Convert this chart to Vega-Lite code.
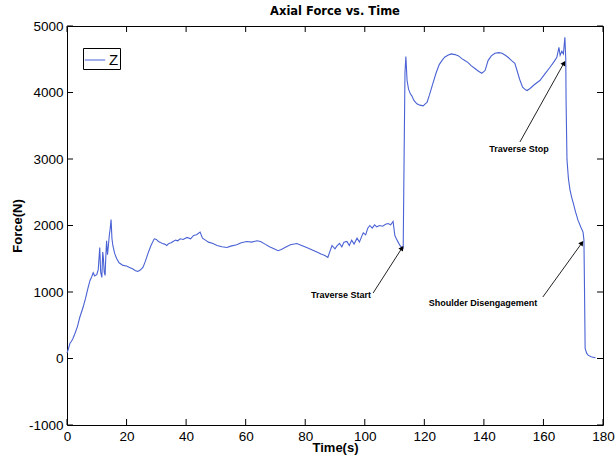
{
  "$schema": "https://vega.github.io/schema/vega-lite/v6.json",
  "width": 536,
  "height": 399,
  "autosize": "none",
  "padding": {"left": 67, "top": 26, "right": 13, "bottom": 33},
  "background": "white",
  "title": {"text": "Axial Force vs. Time", "font": "DejaVu Sans", "fontSize": 11.5, "fontWeight": "bold", "color": "black", "offset": 2},
  "config": {
    "view": {"stroke": "black", "strokeWidth": 1},
    "axis": {"grid": false, "domain": false, "ticks": false, "labelColor": "black", "titleColor": "black", "labelFont": "Liberation Sans", "labelFontSize": 13.5, "titleFont": "Liberation Sans", "titleFontSize": 13, "titleFontWeight": "bold"}
  },
  "datasets": {
    "xticks": [{"v":0},{"v":20},{"v":40},{"v":60},{"v":80},{"v":100},{"v":120},{"v":140},{"v":160},{"v":180}],
    "yticks": [{"v":-1000},{"v":0},{"v":1000},{"v":2000},{"v":3000},{"v":4000},{"v":5000}],
    "force": [
      {"t":0,"F":80},{"t":0.5,"F":150},{"t":1,"F":230},{"t":1.5,"F":260},{"t":2,"F":300},{"t":2.7,"F":380},{"t":3.5,"F":480},{"t":4.3,"F":620},{"t":5.4,"F":770},{"t":6.2,"F":900},{"t":7,"F":1050},{"t":7.7,"F":1170},{"t":8.3,"F":1230},{"t":8.8,"F":1290},{"t":9.3,"F":1240},{"t":10,"F":1260},{"t":10.5,"F":1340},{"t":11,"F":1670},{"t":11.3,"F":1300},{"t":11.7,"F":1220},{"t":12,"F":1600},{"t":12.2,"F":1520},{"t":12.5,"F":1300},{"t":12.8,"F":1250},{"t":13,"F":1500},{"t":13.3,"F":1770},{"t":13.6,"F":1560},{"t":13.9,"F":1700},{"t":14.2,"F":1850},{"t":14.5,"F":1950},{"t":14.8,"F":2090},{"t":15.1,"F":1800},{"t":15.4,"F":1700},{"t":16,"F":1580},{"t":16.7,"F":1500},{"t":17.5,"F":1440},{"t":18.8,"F":1400},{"t":20,"F":1390},{"t":21,"F":1370},{"t":22,"F":1350},{"t":23,"F":1320},{"t":23.8,"F":1310},{"t":24.6,"F":1330},{"t":25.5,"F":1370},{"t":26.3,"F":1460},{"t":27.2,"F":1580},{"t":28.2,"F":1700},{"t":29.3,"F":1800},{"t":30,"F":1790},{"t":30.7,"F":1760},{"t":31.2,"F":1750},{"t":32,"F":1730},{"t":32.8,"F":1720},{"t":33.5,"F":1700},{"t":34.2,"F":1730},{"t":35,"F":1740},{"t":35.6,"F":1760},{"t":36.5,"F":1780},{"t":37.2,"F":1770},{"t":38,"F":1800},{"t":39,"F":1790},{"t":40.3,"F":1820},{"t":41.5,"F":1800},{"t":42.5,"F":1850},{"t":43.5,"F":1860},{"t":44.7,"F":1900},{"t":45.5,"F":1810},{"t":46.5,"F":1780},{"t":47.5,"F":1750},{"t":49,"F":1730},{"t":50.4,"F":1700},{"t":52,"F":1680},{"t":53.7,"F":1670},{"t":55,"F":1690},{"t":57,"F":1710},{"t":58.5,"F":1740},{"t":60.4,"F":1760},{"t":62,"F":1750},{"t":63.8,"F":1770},{"t":65,"F":1760},{"t":66.5,"F":1720},{"t":68,"F":1680},{"t":69.5,"F":1650},{"t":70.9,"F":1620},{"t":72,"F":1640},{"t":73.2,"F":1670},{"t":75,"F":1710},{"t":77.2,"F":1730},{"t":78.8,"F":1700},{"t":80.5,"F":1670},{"t":82,"F":1640},{"t":83.9,"F":1600},{"t":85.3,"F":1570},{"t":86.6,"F":1550},{"t":87.6,"F":1520},{"t":88.2,"F":1600},{"t":89,"F":1700},{"t":90,"F":1650},{"t":90.6,"F":1690},{"t":91.5,"F":1730},{"t":92.3,"F":1680},{"t":93,"F":1750},{"t":94,"F":1760},{"t":94.8,"F":1700},{"t":95.6,"F":1780},{"t":96.4,"F":1720},{"t":97.4,"F":1810},{"t":98.2,"F":1750},{"t":99,"F":1840},{"t":99.5,"F":1890},{"t":100.3,"F":1860},{"t":101,"F":1960},{"t":101.7,"F":2000},{"t":102.5,"F":1960},{"t":103.3,"F":2010},{"t":104,"F":1980},{"t":105,"F":2000},{"t":106,"F":1990},{"t":107,"F":2020},{"t":107.8,"F":2030},{"t":108.7,"F":2010},{"t":109.5,"F":2060},{"t":110.1,"F":1850},{"t":110.6,"F":1800},{"t":111.2,"F":1750},{"t":111.8,"F":1700},{"t":112.4,"F":1670},{"t":112.9,"F":1660},{"t":113.2,"F":3000},{"t":113.5,"F":4300},{"t":113.8,"F":4540},{"t":114.2,"F":4180},{"t":114.7,"F":4050},{"t":115.3,"F":3980},{"t":115.8,"F":3950},{"t":116.5,"F":3880},{"t":117.5,"F":3830},{"t":118.5,"F":3810},{"t":119.6,"F":3800},{"t":120.3,"F":3830},{"t":120.9,"F":3850},{"t":121.7,"F":3960},{"t":122.9,"F":4140},{"t":124,"F":4300},{"t":125,"F":4420},{"t":125.9,"F":4480},{"t":126.8,"F":4530},{"t":127.9,"F":4560},{"t":129,"F":4580},{"t":130.3,"F":4570},{"t":131.5,"F":4550},{"t":132.6,"F":4510},{"t":133.6,"F":4480},{"t":134.7,"F":4450},{"t":135.8,"F":4400},{"t":137,"F":4360},{"t":138.2,"F":4320},{"t":139.3,"F":4290},{"t":140.4,"F":4330},{"t":141.4,"F":4480},{"t":142.5,"F":4550},{"t":143.7,"F":4590},{"t":145,"F":4600},{"t":146.1,"F":4590},{"t":147.2,"F":4560},{"t":148.1,"F":4530},{"t":149.3,"F":4480},{"t":150.4,"F":4440},{"t":151,"F":4350},{"t":152,"F":4200},{"t":153,"F":4080},{"t":154,"F":4040},{"t":154.5,"F":4030},{"t":155.5,"F":4060},{"t":157,"F":4120},{"t":158.8,"F":4180},{"t":160.5,"F":4280},{"t":162.2,"F":4380},{"t":163.5,"F":4460},{"t":164.5,"F":4530},{"t":165.2,"F":4680},{"t":165.6,"F":4560},{"t":166.2,"F":4620},{"t":166.7,"F":4580},{"t":167.2,"F":4830},{"t":167.5,"F":4500},{"t":167.6,"F":3880},{"t":167.9,"F":2990},{"t":168.4,"F":2700},{"t":168.9,"F":2540},{"t":169.5,"F":2420},{"t":170,"F":2340},{"t":170.8,"F":2200},{"t":171.6,"F":2080},{"t":172.5,"F":1980},{"t":173.3,"F":1900},{"t":173.6,"F":1780},{"t":173.8,"F":1000},{"t":174,"F":150},{"t":174.5,"F":80},{"t":175,"F":50},{"t":176,"F":25},{"t":176.6,"F":20},{"t":177.5,"F":10}
    ],
    "notes": [
      {"label":"Traverse Start","tx":92,"tF":955,"t1":102.8,"F1":985,"t2":112.5,"F2":1662},
      {"label":"Traverse Stop","tx":151.8,"tF":3150,"t1":152.1,"F1":3256,"t2":166.9,"F2":4444},
      {"label":"Shoulder Disengagement","tx":139.7,"tF":835,"t1":159.8,"F1":925,"t2":172.9,"F2":1737}
    ]
  },
  "layer": [
    {
      "data": {"name": "force"},
      "mark": {"type": "line", "strokeWidth": 1.1, "interpolate": "linear"},
      "encoding": {
        "x": {"field": "t", "type": "quantitative", "scale": {"domain": [0, 180], "nice": false, "zero": false},
              "axis": {"values": [0,20,40,60,80,100,120,140,160,180], "title": "Time(s)", "labelPadding": 4, "titlePadding": -1, "labelFlush": false}},
        "y": {"field": "F", "type": "quantitative", "scale": {"domain": [-1000, 5000], "nice": false, "zero": false},
              "axis": {"values": [-1000,0,1000,2000,3000,4000,5000], "labelExpr": "datum.value < 0 ? '-' + abs(datum.value) : '' + datum.value", "title": "Force(N)", "labelPadding": 4, "titlePadding": 4, "labelFlush": false}},
        "color": {"datum": "Z", "scale": {"range": ["#4a62d4"]},
                  "legend": {"title": null, "orient": "none", "legendX": 16, "legendY": 22, "strokeColor": "black", "fillColor": "white", "padding": 1, "cornerRadius": 0, "symbolType": "stroke", "symbolSize": 420, "symbolStrokeWidth": 1, "symbolStrokeColor": "#9aa6d8", "labelFontSize": 15, "labelFont": "Liberation Sans", "labelColor": "black", "labelOffset": 3}}
      }
    },
    {
      "data": {"name": "xticks"},
      "mark": {"type": "tick", "orient": "vertical", "color": "black", "size": 6, "thickness": 1, "yOffset": -3, "opacity": 1},
      "encoding": {"x": {"field": "v", "type": "quantitative"}, "y": {"datum": -1000, "type": "quantitative"}}
    },
    {
      "data": {"name": "xticks"},
      "mark": {"type": "tick", "orient": "vertical", "color": "black", "size": 6, "thickness": 1, "yOffset": 3, "opacity": 1},
      "encoding": {"x": {"field": "v", "type": "quantitative"}, "y": {"datum": 5000, "type": "quantitative"}}
    },
    {
      "data": {"name": "yticks"},
      "mark": {"type": "tick", "orient": "horizontal", "color": "black", "size": 6, "thickness": 1, "xOffset": 3, "opacity": 1},
      "encoding": {"y": {"field": "v", "type": "quantitative"}, "x": {"datum": 0, "type": "quantitative"}}
    },
    {
      "data": {"name": "yticks"},
      "mark": {"type": "tick", "orient": "horizontal", "color": "black", "size": 6, "thickness": 1, "xOffset": -3, "opacity": 1},
      "encoding": {"y": {"field": "v", "type": "quantitative"}, "x": {"datum": 180, "type": "quantitative"}}
    },
    {
      "data": {"name": "notes"},
      "mark": {"type": "rule", "color": "#222222", "strokeWidth": 1},
      "encoding": {
        "x": {"field": "t1", "type": "quantitative"},
        "y": {"field": "F1", "type": "quantitative"},
        "x2": {"field": "t2"},
        "y2": {"field": "F2"}
      }
    },
    {
      "data": {"name": "notes"},
      "transform": [{"filter": "datum.label == 'Traverse Start'"}],
      "mark": {"type": "point", "shape": "triangle-up", "filled": true, "color": "black", "size": 30, "angle": 33, "opacity": 1},
      "encoding": {
        "x": {"field": "t2", "type": "quantitative"},
        "y": {"field": "F2", "type": "quantitative"}
      }
    },
    {
      "data": {"name": "notes"},
      "transform": [{"filter": "datum.label == 'Traverse Stop'"}],
      "mark": {"type": "point", "shape": "triangle-up", "filled": true, "color": "black", "size": 30, "angle": 29, "opacity": 1},
      "encoding": {
        "x": {"field": "t2", "type": "quantitative"},
        "y": {"field": "F2", "type": "quantitative"}
      }
    },
    {
      "data": {"name": "notes"},
      "transform": [{"filter": "datum.label == 'Shoulder Disengagement'"}],
      "mark": {"type": "point", "shape": "triangle-up", "filled": true, "color": "black", "size": 30, "angle": 36, "opacity": 1},
      "encoding": {
        "x": {"field": "t2", "type": "quantitative"},
        "y": {"field": "F2", "type": "quantitative"}
      }
    },
    {
      "data": {"name": "notes"},
      "mark": {"type": "text", "font": "Liberation Sans", "fontSize": 9, "fontWeight": "bold", "color": "black", "align": "center", "baseline": "middle"},
      "encoding": {
        "x": {"field": "tx", "type": "quantitative"},
        "y": {"field": "tF", "type": "quantitative"},
        "text": {"field": "label"}
      }
    }
  ]
}
